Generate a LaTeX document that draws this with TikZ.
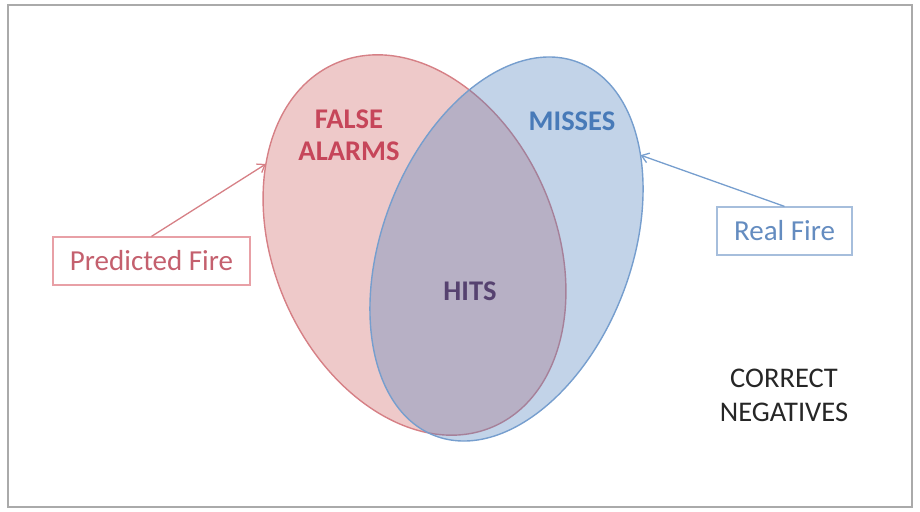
\documentclass[tikz,border=0pt]{standalone}
\usepackage{fontspec}
\setmainfont{Carlito}
\usetikzlibrary{shapes.geometric,arrows.meta}

\definecolor{setred}{RGB}{200,82,80}
\definecolor{setblue}{RGB}{79,129,189}
\definecolor{redline}{RGB}{214,128,134}
\definecolor{blueline}{RGB}{118,158,206}
\definecolor{redtext}{RGB}{198,70,90}
\definecolor{bluetext}{RGB}{72,122,184}
\definecolor{hitstext}{RGB}{86,66,112}
\definecolor{predtext}{RGB}{196,96,110}
\definecolor{realtext}{RGB}{100,140,192}
\definecolor{predbox}{RGB}{232,160,166}
\definecolor{realbox}{RGB}{166,190,220}
\definecolor{framegray}{RGB}{170,170,170}

\tikzset{
  setshape/.style={ellipse, inner sep=0pt, outer sep=0pt, line width=1.4pt},
  biglabel/.style={align=center, font=\fontsize{28.5}{32}\selectfont\bfseries},
  keybox/.style={draw, line width=1.2pt, inner sep=0pt, minimum height=48pt,
                 font=\fontsize{29}{32}\selectfont},
  pointer/.style={line width=1.3pt, -{Straight Barb[length=7pt,width=10pt,line width=1.3pt]}}
}

\begin{document}
\begin{tikzpicture}[x=1pt,y=-1pt]
  \useasboundingbox (0,0) rectangle (920,511);
  \draw[framegray, line width=2pt] (8,5) rectangle (912,507);

  % the two sets
  \node[setshape, draw=redline, fill=setred, fill opacity=0.31,
        minimum width=282pt, minimum height=396pt, rotate=23.4]
        (predset) at (414.5,245) {};
  \node[setshape, draw=blueline, fill=setblue, fill opacity=0.35,
        minimum width=249pt, minimum height=400pt, rotate=-21]
        (realset) at (506.5,249) {};

  % region labels
  \node[biglabel, text=redtext]  (fa)   at (349,135) {FALSE\\ALARMS};
  \node[biglabel, text=bluetext] (miss) at (572,121) {MISSES};
  \node[biglabel, text=hitstext] (hits) at (470,291) {HITS};
  \node[align=center, text=black!85, font=\fontsize{28.5}{34}\selectfont]
        (cn) at (784,395) {CORRECT\\NEGATIVES};

  % key boxes
  \node[keybox, draw=predbox, text=predtext, minimum width=197pt]
        (pf) at (151.5,261) {Predicted Fire};
  \node[keybox, draw=realbox, text=realtext, minimum width=135pt]
        (rf) at (784.5,231) {Real Fire};

  % pointers to the sets
  \draw[pointer, redline]  (pf.north) -- (predset.128);
  \draw[pointer, blueline] (rf.north) -- (realset.56);
\end{tikzpicture}
\end{document}
